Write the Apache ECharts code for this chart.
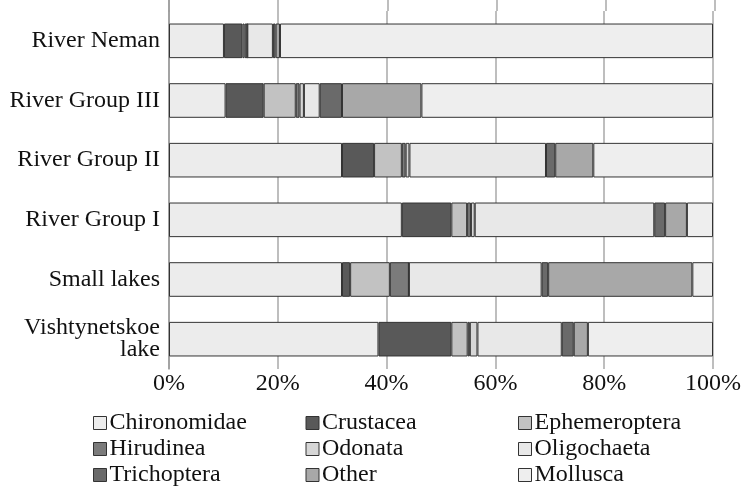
<!DOCTYPE html>
<html>
<head>
<meta charset="utf-8">
<script src="https://cdn.jsdelivr.net/npm/echarts@6/dist/echarts.min.js"></script>
<style>
  html, body { margin: 0; padding: 0; background: #fff; }
  #chart { width: 744px; height: 493px; }
</style>
</head>
<body>
<div id="chart"></div>
<script>
// Sites, listed bottom to top along the category axis
const sites = ['Vishtynetskoe\nlake', 'Small lakes', 'River Group I', 'River Group II', 'River Group III', 'River Neman'];

// Share of each taxon per site, in percent
const chironomidae  = [38.5, 31.8, 42.8, 31.8, 10.4, 10.1];
const crustacea     = [13.4,  1.5,  9.1,  5.9,  7.0,  3.4];
const ephemeroptera = [ 3.0,  7.3,  2.9,  5.1,  5.9,  0.4];
const hirudinea     = [ 0.4,  3.5,  0.7,  0.7,  0.7,  0.5];
const odonata       = [ 1.4,  0.0,  0.7,  0.7,  0.8,  0.0];
const oligochaeta   = [15.5, 24.4, 33.0, 25.1,  2.9,  4.7];
const trichoptera   = [ 2.2,  1.2,  2.0,  1.7,  4.1,  0.5];
const other         = [ 2.6, 26.5,  4.0,  7.0, 14.6,  0.8];
const mollusca      = [23.0,  3.8,  4.8, 22.0, 53.6, 79.6];

const taxa = ['Chironomidae', 'Crustacea', 'Ephemeroptera', 'Hirudinea', 'Odonata',
              'Oligochaeta', 'Trichoptera', 'Other', 'Mollusca'];
const taxonValues = [chironomidae, crustacea, ephemeroptera, hirudinea, odonata,
                     oligochaeta, trichoptera, other, mollusca];

// Percent axis ticks
const tickMin = 0, tickMax = 100, tickStep = 20;

const fills = ['#ececec', '#595959', '#c2c2c2', '#7b7b7b', '#d6d6d6',
               '#e8e8e8', '#6a6a6a', '#a8a8a8', '#eeeeee'];

const serif = '"Liberation Serif", "Times New Roman", serif';
const chart = echarts.init(document.getElementById('chart'), null, { renderer: 'canvas' });

chart.setOption({
  animation: false,
  backgroundColor: '#ffffff',
  color: fills,
  textStyle: { fontFamily: serif },
  grid: [
    { left: 169, right: 29, top: 11, bottom: 124 },
    // thin strip above the first row so the grid lines run to the top edge
    { left: 169, right: 29, top: 0, height: 11 }
  ],
  legend: {
    data: taxa,
    left: 88,
    top: 405,
    width: 650,
    orient: 'horizontal',
    itemWidth: 13,
    itemHeight: 13,
    itemGap: 0,
    icon: 'rect',
    itemStyle: { borderColor: '#333', borderWidth: 1 },
    textStyle: { fontFamily: serif, fontSize: 24, color: '#111', width: 196, lineHeight: 26, padding: [0, 0, 0, -2] }
  },
  xAxis: [
    {
      gridIndex: 0, type: 'value', min: tickMin, max: tickMax, interval: tickStep,
      axisLine: { show: false }, axisTick: { show: false },
      splitLine: { show: true, lineStyle: { color: '#a9a9a9', width: 1.5 } },
      axisLabel: { formatter: '{value}%', fontFamily: serif, fontSize: 24, color: '#111', margin: 3 }
    },
    {
      gridIndex: 1, type: 'value', min: tickMin, max: tickMax, interval: tickStep,
      axisLine: { show: false }, axisTick: { show: false }, axisLabel: { show: false },
      splitLine: { show: true, lineStyle: { color: '#a9a9a9', width: 1.5 } }
    }
  ],
  yAxis: [
    {
      gridIndex: 0, type: 'category', data: sites,
      axisLine: { show: true, lineStyle: { color: '#9a9a9a', width: 1.5 } },
      axisTick: { show: false },
      axisLabel: { fontFamily: serif, fontSize: 24, color: '#111', margin: 9, lineHeight: 22, align: 'right' }
    },
    {
      gridIndex: 1, type: 'category', data: [''],
      axisLine: { show: true, lineStyle: { color: '#9a9a9a', width: 1.5 } },
      axisTick: { show: false }, axisLabel: { show: false }
    }
  ],
  series: taxa.map((name, i) => ({
    name: name,
    type: 'bar',
    stack: 'share',
    xAxisIndex: 0,
    yAxisIndex: 0,
    barWidth: '58%',
    data: taxonValues[i],
    itemStyle: { color: fills[i], borderColor: '#333', borderWidth: 1 },
    emphasis: { disabled: true }
  }))
});
</script>
</body>
</html>
